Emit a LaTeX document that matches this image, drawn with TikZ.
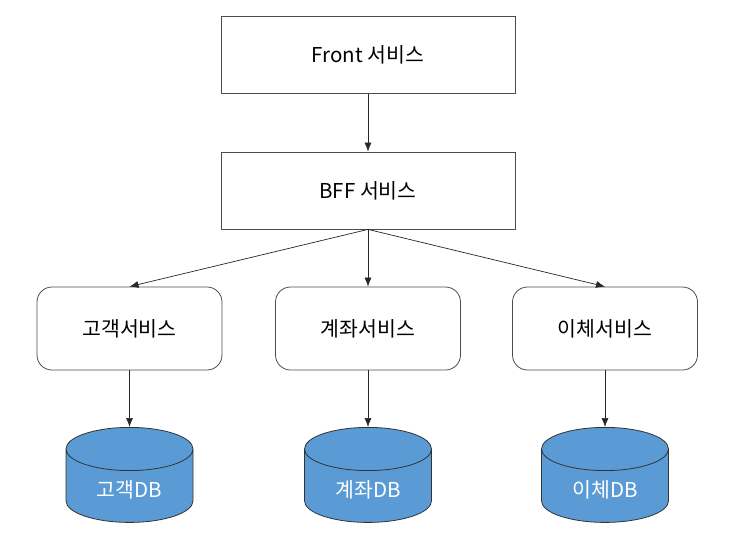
\documentclass[tikz,border=0pt]{standalone}
\usepackage{fontspec}
\setmainfont{Noto Sans CJK KR}
\usetikzlibrary{shapes.geometric,arrows.meta}
\definecolor{dbblue}{HTML}{5B9BD5}

\begin{document}
\begin{tikzpicture}[x=1pt,y=-1pt,
    box/.style={draw=black!70,line width=0.8pt,minimum width=294pt,minimum height=77pt,font=\fontsize{20.5}{24}\selectfont},
    svcbox/.style={box,rounded corners=15pt,minimum width=185pt,minimum height=83pt},
    dbcyl/.style={cylinder,shape border rotate=90,aspect=0.6,draw=black!80,line width=0.8pt,fill=dbblue,anchor=top,
                  minimum width=127pt,minimum height=95pt,text=white,font=\fontsize{20.5}{24}\selectfont},
    link/.style={-{Latex[length=9pt,width=7pt]},black!85,line width=0.7pt}]
  \useasboundingbox (0,0) rectangle (732,544);

  \node[box] (front) at (368,55) {Front 서비스};
  \node[box] (bff) at (368,190.5) {BFF 서비스};

  \node[svcbox] (cust) at (129.5,328.5) {고객서비스};
  \node[svcbox] (acct) at (368,328.5) {계좌서비스};
  \node[svcbox] (xfer) at (605,328.5) {이체서비스};

  \node[dbcyl] (custdb) at (129.5,427) {고객DB};
  \node[dbcyl] (acctdb) at (368,427) {계좌DB};
  \node[dbcyl] (xferdb) at (605,427) {이체DB};

  \draw[link] (front) -- (bff);
  \foreach \s in {cust,acct,xfer}
    \draw[link] (bff.south) -- (\s.north);
  \foreach \s in {cust,acct,xfer}
    \draw[link] (\s) -- (\s db.top);

\end{tikzpicture}
\end{document}
